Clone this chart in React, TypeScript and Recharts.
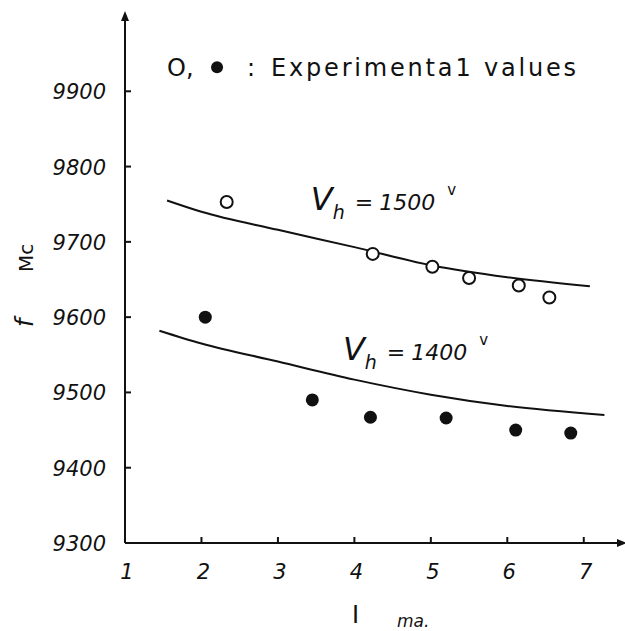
import {
  ComposedChart,
  Line,
  Scatter,
  XAxis,
  YAxis,
  ReferenceDot,
} from 'recharts';

// fitted curves, I (ma) vs f (Mc)
const upperCurveI = [1.55, 2, 3, 4, 5, 6, 7.08];
const upperCurveF = [9755, 9740, 9716, 9693, 9669, 9653, 9641];
const lowerCurveI = [1.45, 2, 3, 4, 5, 6, 7.27];
const lowerCurveF = [9582, 9565, 9541, 9517, 9497, 9482, 9470];

// experimental values
const openI = [2.33, 4.24, 5.02, 5.5, 6.15, 6.55];
const openF = [9753, 9684, 9667, 9652, 9642, 9626];
const filledI = [2.05, 3.45, 4.21, 5.2, 6.11, 6.83];
const filledF = [9600, 9490, 9467, 9466, 9450, 9446];

const xTicks = [1, 2, 3, 4, 5, 6, 7];
const yTicks = [9300, 9400, 9500, 9600, 9700, 9800, 9900];

const INK = '#111';
const FONT = '"DejaVu Sans", sans-serif';

const zip = (xs: number[], ys: number[]) => xs.map((x, i) => ({ x, y: ys[i] }));

const upperCurve = zip(upperCurveI, upperCurveF);
const lowerCurve = zip(lowerCurveI, lowerCurveF);
const openPts = zip(openI, openF);
const filledPts = zip(filledI, filledF);

const OpenDot = (p: any) => (
  <circle cx={p.cx} cy={p.cy} r={6} fill="#fff" stroke={INK} strokeWidth={2} />
);
const FilledDot = (p: any) => <circle cx={p.cx} cy={p.cy} r={6.5} fill={INK} />;

// ticks point inward, as in the hand drawing
const XTick = (p: any) => (
  <g>
    {p.payload.value !== 1 && (
      <line x1={p.x} x2={p.x} y1={p.y} y2={p.y - 6} stroke={INK} strokeWidth={2} />
    )}
    <text
      x={p.x + 2}
      y={p.y + 36}
      textAnchor="middle"
      fill={INK}
      fontSize={21}
      fontStyle="italic"
      fontFamily={FONT}
    >
      {p.payload.value}
    </text>
  </g>
);

const YTick = (p: any) => (
  <g>
    {p.payload.value !== 9300 && (
      <line x1={p.x} x2={p.x + 6} y1={p.y} y2={p.y} stroke={INK} strokeWidth={2} />
    )}
    <text
      x={p.x - 19}
      y={p.y + 8}
      textAnchor="end"
      fill={INK}
      fontSize={21}
      fontStyle="italic"
      fontFamily={FONT}
    >
      {p.payload.value}
    </text>
  </g>
);

const VhLabel = (volts: string) => (p: any) => (
  <text x={p.cx} y={p.cy} fill={INK} fontFamily={FONT}>
    <tspan fontSize={32} fontStyle="italic">V</tspan>
    <tspan fontSize={19} fontStyle="italic" dy={9}>h</tspan>
    <tspan fontSize={22} dx={10} dy={-9}>=</tspan>
    <tspan fontSize={22} fontStyle="italic" dx={6}>{volts}</tspan>
    <tspan fontSize={15} dx={12} dy={-15}>v</tspan>
  </text>
);

const LegendNote = (p: any) => (
  <g fill={INK} fontFamily={FONT}>
    <text x={p.cx} y={p.cy} fontSize={24}>O,</text>
    <circle cx={p.cx + 50} cy={p.cy - 9} r={6} fill={INK} />
    <text x={p.cx + 80} y={p.cy} fontSize={24}>:</text>
    <text x={p.cx + 104} y={p.cy} fontSize={24} textLength={305} lengthAdjust="spacing">
      Experimenta1 values
    </text>
  </g>
);

export default function App() {
  return (
    <div style={{ width: 625, height: 631 }}>
      <style>{`body{margin:0}`}</style>
      <ComposedChart
        width={625}
        height={631}
        margin={{ top: 16, right: 3, left: 0, bottom: 0 }}
        style={{ background: '#fff' }}
      >
        <defs>
          <marker
            id="axisArrow"
            viewBox="0 0 10 10"
            refX="5"
            refY="5"
            markerWidth="10"
            markerHeight="10"
            markerUnits="userSpaceOnUse"
            orient="auto-start-reverse"
          >
            <path d="M0,1 L10,5 L0,9 z" fill={INK} />
          </marker>
        </defs>
        <XAxis
          dataKey="x"
          type="number"
          domain={[1, 7.5]}
          ticks={xTicks}
          height={88}
          allowDataOverflow
          axisLine={{ stroke: INK, strokeWidth: 2, markerEnd: 'url(#axisArrow)' }}
          tickLine={false}
          tickSize={0}
          tickMargin={0}
          tick={XTick}
          label={{
            content: () => (
              <g fill={INK} fontFamily={FONT}>
                <text x={352} y={623} fontSize={24}>I</text>
                <text x={397} y={627} fontSize={17} fontStyle="italic">ma.</text>
              </g>
            ),
          }}
        />
        <YAxis
          dataKey="y"
          type="number"
          domain={[9300, 10000]}
          ticks={yTicks}
          width={125}
          allowDataOverflow
          axisLine={{ stroke: INK, strokeWidth: 2, markerStart: 'url(#axisArrow)' }}
          tickLine={false}
          tickSize={0}
          tickMargin={0}
          tick={YTick}
          label={{
            content: () => (
              <g transform="translate(33,0) rotate(-90)" fill={INK} fontFamily={FONT}>
                <text x={-327} y={0} fontSize={24} fontStyle="italic">f</text>
                <text x={-272} y={0} fontSize={20}>Mc</text>
              </g>
            ),
          }}
        />
        <Line
          data={upperCurve}
          dataKey="y"
          type="monotone"
          stroke={INK}
          strokeWidth={2}
          dot={false}
          activeDot={false}
          isAnimationActive={false}
        />
        <Line
          data={lowerCurve}
          dataKey="y"
          type="monotone"
          stroke={INK}
          strokeWidth={2}
          dot={false}
          activeDot={false}
          isAnimationActive={false}
        />
        <Scatter data={openPts} shape={OpenDot} isAnimationActive={false} />
        <Scatter data={filledPts} shape={FilledDot} isAnimationActive={false} />
        <ReferenceDot x={1.55} y={9920} r={0} shape={LegendNote} />
        <ReferenceDot x={3.43} y={9742} r={0} shape={VhLabel('1500')} />
        <ReferenceDot x={3.85} y={9543} r={0} shape={VhLabel('1400')} />
      </ComposedChart>
    </div>
  );
}
